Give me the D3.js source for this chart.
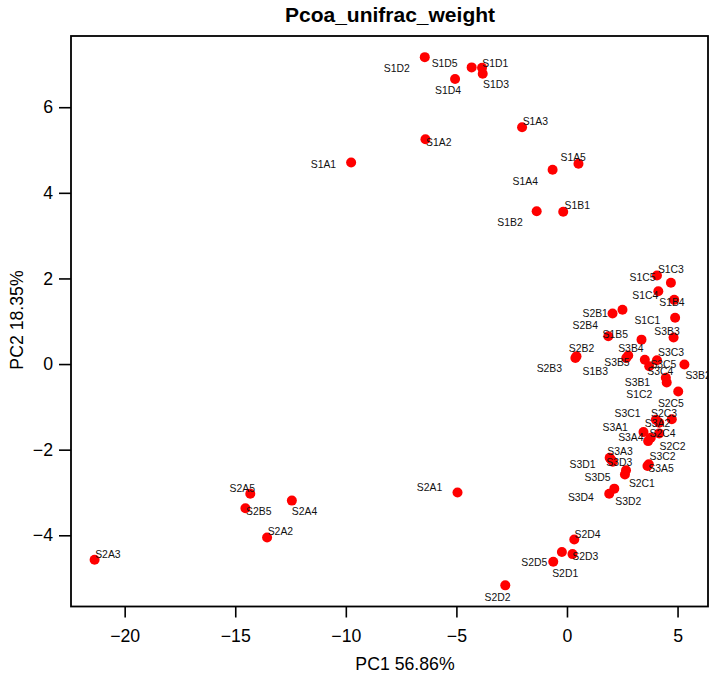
<!DOCTYPE html>
<html>
<head>
<meta charset="utf-8">
<script src="https://cdn.jsdelivr.net/npm/d3@7"></script>
<style>
  body { margin: 0; background: #fff; }
  svg text { font-family: "Liberation Sans", Arial, sans-serif; }
</style>
</head>
<body>
<div id="chart"></div>
<script>
// PCoA (weighted unifrac) sample scores
const SAMPLES = [
  'S1A1','S1A2','S1A3','S1A4','S1A5','S1B1','S1B2','S1B3','S1B4','S1B5',
  'S1C1','S1C2','S1C3','S1C4','S1C5','S1D1','S1D2','S1D3','S1D4','S1D5',
  'S2A1','S2A2','S2A3','S2A4','S2A5','S2B1','S2B2','S2B3','S2B4','S2B5',
  'S2C1','S2C2','S2C3','S2C4','S2C5','S2D1','S2D2','S2D3','S2D4','S2D5',
  'S3A1','S3A2','S3A3','S3A4','S3A5','S3B1','S3B2','S3B3','S3B4','S3B5',
  'S3C1','S3C2','S3C3','S3C4','S3C5','S3D1','S3D2','S3D3','S3D4','S3D5'
];
const PC1 = [
  -9.76, -6.40, -2.03, -0.65, 0.52, -0.17, -1.37, 2.68, 4.85, 1.87,
  4.89, 4.51, 4.70, 4.13, 4.07, -3.84, -6.43, -3.81, -5.06, -4.31,
  -4.95, -13.56, -21.36, -12.44, -14.32, 2.51, 0.43, 0.38, 2.06, -14.54,
  2.62, 3.79, 4.74, 4.17, 5.03, -0.23, -2.79, 0.25, 0.33, -0.62,
  3.46, 4.17, 1.99, 3.67, 3.70, 4.47, 5.31, 4.82, 3.37, 2.77,
  4.02, 3.64, 4.07, 3.72, 3.52, 1.93, 2.14, 2.07, 1.91, 2.67
];
const PC2 = [
  4.71, 5.25, 5.53, 4.54, 4.68, 3.56, 3.57, 0.14, 1.50, 0.65,
  1.08, -0.43, 1.90, 1.70, 2.07, 6.92, 7.17, 6.78, 6.66, 6.93,
  -3.00, -4.05, -4.57, -3.19, -3.03, 1.27, 0.18, 0.14, 1.18, -3.37,
  -2.58, -1.72, -1.29, -1.62, -0.64, -4.39, -5.17, -4.44, -4.10, -4.62,
  -1.59, -1.37, -2.23, -1.80, -2.34, -0.32, -0.01, 0.62, 0.57, 0.20,
  -1.30, -2.38, 0.09, -0.05, 0.10, -2.19, -2.91, -2.28, -3.03, -2.48
];
const X_TICKS = [-20, -15, -10, -5, 0, 5];
const Y_TICKS = [-4, -2, 0, 2, 4, 6];
const TITLE = 'Pcoa_unifrac_weight';
const X_LABEL = 'PC1 56.86%';
const Y_LABEL = 'PC2 18.35%';

// where each sample label sits, relative to its point (px)
const LABEL_OFFSET = {
  S1A1: [-27.7, 2.3], S1A2: [13.3, 3.3], S1A3: [13.3, -6], S1A4: [-27.3, 11.4], S1A5: [-5.3, -6.6],
  S1B1: [14, -6], S1B2: [-26.6, 11], S1B3: [-31, 13.5], S1B4: [-2.3, 2.7], S1B5: [7, -2],
  S1C1: [-27.7, 2.7], S1C2: [-27.5, 12], S1C3: [0, -13], S1C4: [-13, 3.7], S1C5: [-14.4, 1.7],
  S1D1: [13.3, -4.6], S1D2: [-28, 11.6], S1D3: [13.4, 11], S1D4: [-7, 11.7], S1D5: [-27, -4.4],
  S2A1: [-28, -5], S2A2: [13.3, -6], S2A3: [13.3, -5], S2A4: [12.7, 10.7], S2A5: [-8, -5],
  S2B1: [-27.3, 3.4], S2B2: [5, -7.7], S2B3: [-26, 10.2], S2B4: [-27.3, 12], S2B5: [13.3, 3],
  S2C1: [17, 9.3], S2C2: [21.8, 8.5], S2C3: [-7.7, -5.7], S2C4: [3.3, 0], S2C5: [-7.3, 11.7],
  S2D1: [3.3, 21], S2D2: [-7.7, 11.7], S2D3: [12.7, 2.7], S2D4: [13.3, -5], S2D5: [-19, 1],
  S3A1: [-28.3, -4.4], S3A2: [-1.7, 0.2], S3A3: [9, -8.3], S3A4: [-17.3, -4], S3A5: [12.2, 4.3],
  S3B1: [-28.4, 4.4], S3B2: [13.7, 11], S3B3: [-6.6, -6], S3B4: [-10.6, 9], S3B5: [-11.3, 6.7],
  S3C1: [-28.4, -6], S3C2: [15, -10], S3C3: [14, -8.3], S3C4: [11, 5], S3C5: [18.6, 4.7],
  S3D1: [-27.2, 6.5], S3D2: [14, 12.7], S3D3: [6.5, 1.2], S3D4: [-28.3, 3.7], S3D5: [-28.4, 7.3]
};

const width = 709;
const height = 675;
const plot = { left: 71, right: 708, top: 36, bottom: 606.5 };

// R-style 4% padding round the data range
function padded(vals) {
  const [lo, hi] = d3.extent(vals);
  const pad = (hi - lo) * 0.04;
  return [lo - pad, hi + pad];
}

const x = d3.scaleLinear().domain(padded(PC1)).range([plot.left, plot.right]);
const y = d3.scaleLinear().domain(padded(PC2)).range([plot.bottom, plot.top]);

const points = SAMPLES.map((name, i) => ({ name, pc1: PC1[i], pc2: PC2[i] }));

const svg = d3.select('#chart')
  .append('svg')
  .attr('width', width)
  .attr('height', height)
  .style('display', 'block');

svg.append('defs').append('clipPath')
  .attr('id', 'plot-clip')
  .append('rect')
  .attr('x', plot.left)
  .attr('y', plot.top)
  .attr('width', plot.right - plot.left)
  .attr('height', plot.bottom - plot.top);

const g = svg.append('g').attr('clip-path', 'url(#plot-clip)');

g.selectAll('circle')
  .data(points)
  .enter()
  .append('circle')
  .attr('cx', d => x(d.pc1))
  .attr('cy', d => y(d.pc2))
  .attr('r', 5)
  .attr('fill', '#ff0000');

g.selectAll('text.lab')
  .data(points)
  .enter()
  .append('text')
  .attr('class', 'lab')
  .attr('x', d => x(d.pc1) + LABEL_OFFSET[d.name][0])
  .attr('y', d => y(d.pc2) + LABEL_OFFSET[d.name][1])
  .attr('dy', '0.35em')
  .attr('text-anchor', 'middle')
  .attr('font-size', 10.4)
  .attr('fill', '#111')
  .text(d => d.name);

// axes
const xAxis = svg.append('g')
  .attr('transform', `translate(0,${plot.bottom})`)
  .call(d3.axisBottom(x).tickValues(X_TICKS).tickSize(11).tickPadding(12).tickSizeOuter(0));
const yAxis = svg.append('g')
  .attr('transform', `translate(${plot.left},0)`)
  .call(d3.axisLeft(y).tickValues(Y_TICKS).tickSize(12).tickPadding(6).tickSizeOuter(0));

[xAxis, yAxis].forEach(a => {
  a.select('.domain').remove();
  a.selectAll('line').attr('stroke', '#000').attr('stroke-width', 1.6);
  a.selectAll('text').attr('font-size', 17.7).attr('fill', '#000')
    .style('font-family', '"Liberation Sans", Arial, sans-serif');
});

svg.append('rect')
  .attr('x', plot.left)
  .attr('y', plot.top)
  .attr('width', plot.right - plot.left)
  .attr('height', plot.bottom - plot.top)
  .attr('fill', 'none')
  .attr('stroke', '#000')
  .attr('stroke-width', 1.8);

svg.append('text')
  .attr('x', 390)
  .attr('y', 22)
  .attr('text-anchor', 'middle')
  .attr('font-size', 21)
  .attr('font-weight', 'bold')
  .text(TITLE);

svg.append('text')
  .attr('x', 405)
  .attr('y', 664)
  .attr('dy', '0.35em')
  .attr('text-anchor', 'middle')
  .attr('font-size', 17.7)
  .text(X_LABEL);

svg.append('text')
  .attr('transform', 'translate(17,320) rotate(-90)')
  .attr('dy', '0.35em')
  .attr('text-anchor', 'middle')
  .attr('font-size', 17.7)
  .text(Y_LABEL);
</script>
</body>
</html>
